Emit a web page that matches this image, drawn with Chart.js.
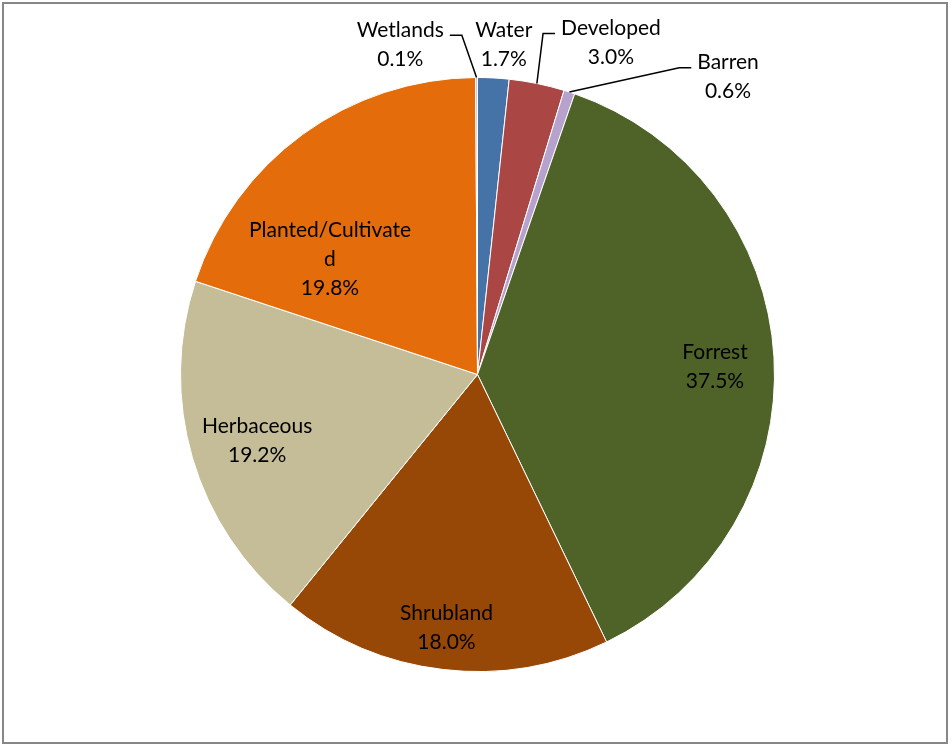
<!DOCTYPE html>
<html>
<head>
<meta charset="utf-8">
<script src="https://cdn.jsdelivr.net/npm/chart.js@4.4.1/dist/chart.umd.min.js"></script>
<style>
  html, body { margin: 0; padding: 0; background: #fff; }
  #wrap { position: relative; width: 952px; height: 748px; }
  #frame { position: absolute; left: 2px; top: 2px; width: 946px; height: 742px;
           border: 2px solid #878787; box-sizing: border-box; }
</style>
</head>
<body>
<div id="wrap">
  <canvas id="myChart" width="952" height="748"></canvas>
  <div id="frame"></div>
</div>
<script>
(function () {
    'use strict';

    // land cover shares, clockwise from 12 o'clock
    var categories = ['Water', 'Developed', 'Barren', 'Forrest', 'Shrubland', 'Herbaceous', 'Planted/Cultivated', 'Wetlands'];
    var shares = [1.7, 3.0, 0.6, 37.5, 18.0, 19.2, 19.8, 0.1];
    var colors = ['#4572A7', '#AA4643', '#B6A2CC', '#4F6228', '#974706', '#C4BD97', '#E46C0A', '#A9C6E3'];

    // label text lines as written on the chart (long name wraps)
    var labelLines = [
        ['Water'], ['Developed'], ['Barren'], ['Forrest'], ['Shrubland'],
        ['Herbaceous'], ['Planted/Cultivate', 'd'], ['Wetlands']
    ];
    // label placement: [radius factor, angle shift in degrees, leader side]
    var labelPlace = [
        [1.113, 1.5, null],
        [1.203, 10.4, 'left'],
        [1.309, 22.1, 'left'],
        [0.80, 1.5, null],
        [0.86, 0.3, null],
        [0.775, -0.5, null],
        [0.63, -16, null],
        [1.14, -13.0, 'right']
    ];

    var FONT = '21px Lato, "Open Sans", sans-serif';
    var LINE_H = 29;

    var pieLabels = {
        id: 'pieLabels',
        afterDatasetsDraw: function (chart) {
            var ctx = chart.ctx;
            var meta = chart.getDatasetMeta(0);
            ctx.save();
            ctx.font = FONT;
            ctx.fillStyle = '#000';
            ctx.textAlign = 'center';
            ctx.textBaseline = 'middle';
            meta.data.forEach(function (arc, i) {
                var p = arc.getProps(['x', 'y', 'startAngle', 'endAngle', 'outerRadius'], true);
                var mid = (p.startAngle + p.endAngle) / 2;
                var place = labelPlace[i];
                var a = mid + place[1] * Math.PI / 180;
                var r = p.outerRadius * place[0];
                var cx = p.x + Math.cos(a) * r;
                var cy = p.y + Math.sin(a) * r;
                var lines = labelLines[i].concat([shares[i].toFixed(1) + '%']);
                var top = cy - (lines.length - 1) * LINE_H / 2;
                lines.forEach(function (t, k) {
                    ctx.fillText(t, cx, top + k * LINE_H);
                });
                if (place[2]) {
                    // leader line from slice edge to an elbow beside the first line
                    var w = ctx.measureText(lines[0]).width;
                    var sx = p.x + Math.cos(mid) * p.outerRadius;
                    var sy = p.y + Math.sin(mid) * p.outerRadius;
                    var dir = place[2] === 'left' ? -1 : 1;
                    var ex = cx + dir * (w / 2 + 6);
                    var ey = top + 5;
                    var bx = ex + dir * 12;
                    ctx.beginPath();
                    ctx.strokeStyle = '#000';
                    ctx.lineWidth = 1.5;
                    ctx.moveTo(sx, sy);
                    ctx.lineTo(bx, ey);
                    ctx.lineTo(ex, ey);
                    ctx.stroke();
                }
            });
            ctx.restore();
        }
    };

    var ctx = document.getElementById('myChart');
    new Chart(ctx, {
        type: 'pie',
        data: {
            labels: categories,
            datasets: [{
                data: shares,
                backgroundColor: colors,
                borderColor: '#ffffff',
                borderWidth: 1
            }]
        },
        options: {
            responsive: false,
            animation: false,
            layout: {
                padding: { left: 180, right: 177, top: 77, bottom: 76 }
            },
            plugins: {
                legend: { display: false },
                tooltip: { enabled: false }
            }
        },
        plugins: [pieLabels]
    });
})();
</script>
</body>
</html>
